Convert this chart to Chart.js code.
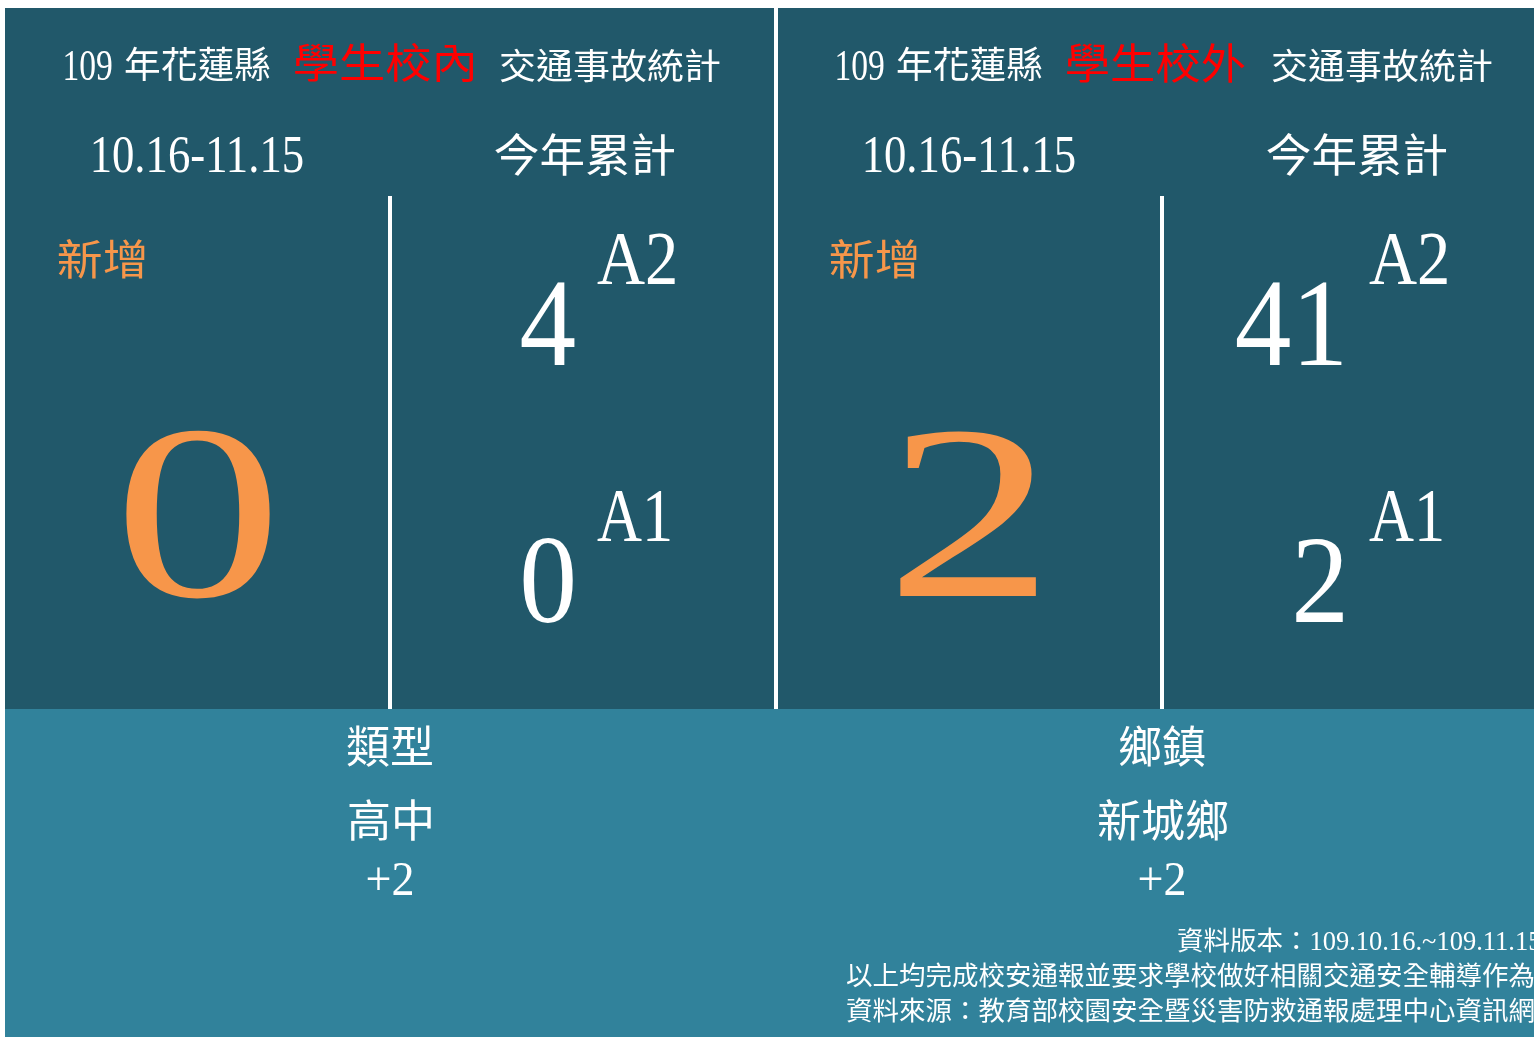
<!DOCTYPE html>
<html>
<head>
<meta charset="utf-8">
<script src="https://cdn.jsdelivr.net/npm/chart.js@4.4.1/dist/chart.umd.min.js"></script>
<style>
  html, body { margin: 0; padding: 0; background: #ffffff; overflow: hidden; width: 1534px; height: 1037px; }
  #wrap { position: absolute; left: 4px; top: 0px; width: 1544px; height: 1037px; }
  canvas { display: block; }
</style>
</head>
<body>
<div id="wrap"><canvas id="c" width="1544" height="1037"></canvas></div>
<script>
// ---- data ----
const panels = ['學生校內', '學生校外'];
const yearLabel = '109';
const countyLabel = '年花蓮縣';
const titleSuffix = '交通事故統計';
const periodLabel = '10.16-11.15';
const cumulativeLabel = '今年累計';
const newLabel = '新增';
const newCounts = [0, 2];
const a2Counts = [4, 41];
const a1Counts = [0, 2];
const a2Label = 'A2';
const a1Label = 'A1';
const breakdownHeads = ['類型', '鄉鎮'];
const breakdownNames = ['高中', '新城鄉'];
const breakdownDeltas = ['+2', '+2'];
const footnoteVersion = '資料版本：109.10.16.~109.11.15.';
const footnoteLines = [
  '以上均完成校安通報並要求學校做好相關交通安全輔導作為',
  '資料來源：教育部校園安全暨災害防救通報處理中心資訊網'
];

// ---- style ----
const DARK = '#21586A';
const LIGHT = '#31829B';
const ORANGE = '#F7964A';
const RED = '#FF0000';
const WHITE = '#FFFFFF';
const SERIF = '"Liberation Serif", "Noto Sans CJK TC", serif';
const CJK = '"Noto Sans CJK TC", "Noto Sans CJK SC", sans-serif';

function fitText(ctx, text, family, color, l, t, r, b) {
  ctx.save();
  ctx.font = '40px ' + family;
  ctx.textAlign = 'left';
  ctx.textBaseline = 'alphabetic';
  const m = ctx.measureText(text);
  const w = m.actualBoundingBoxLeft + m.actualBoundingBoxRight;
  const h = m.actualBoundingBoxAscent + m.actualBoundingBoxDescent;
  ctx.translate(l, t);
  ctx.scale((r - l) / w, (b - t) / h);
  ctx.fillStyle = color;
  ctx.fillText(text, m.actualBoundingBoxLeft, m.actualBoundingBoxAscent);
  ctx.restore();
}

function drawNumber(ctx, text, align, x, baseline, capH, sx, color) {
  ctx.save();
  ctx.font = '100px ' + SERIF;
  const asc = ctx.measureText('2').actualBoundingBoxAscent / 100;
  const size = capH / asc;
  ctx.font = size.toFixed(2) + 'px ' + SERIF;
  ctx.textAlign = align;
  ctx.textBaseline = 'alphabetic';
  ctx.fillStyle = color;
  ctx.translate(x, baseline);
  ctx.scale(sx, 1);
  ctx.fillText(text, 0, 0);
  ctx.restore();
}

const infographic = {
  id: 'infographic',
  beforeDraw(chart) {
    const ctx = chart.ctx;
    const area = chart.chartArea;
    const xs = chart.scales.x;
    const left = 1;            // panel left edge (page x = 5)
    const top = 8;
    const split = 709;
    ctx.save();
    ctx.fillStyle = '#ffffff';
    ctx.fillRect(0, 0, chart.width, chart.height);
    ctx.fillStyle = DARK;
    ctx.fillRect(left, top, area.right - left, split - top);
    ctx.fillStyle = LIGHT;
    ctx.fillRect(left, split, area.right - left, area.bottom - split);
    // dividers
    ctx.fillStyle = WHITE;
    const mid = (xs.getPixelForValue(0) + xs.getPixelForValue(1)) / 2;
    ctx.fillRect(mid - 2, top, 4, split - top);
    panels.forEach((p, i) => {
      const cx = xs.getPixelForValue(i);
      ctx.fillRect(cx - 2, 196, 4, split - 196);
    });
    ctx.restore();
  },
  afterDraw(chart) {
    const ctx = chart.ctx;
    const xs = chart.scales.x;
    panels.forEach((p, i) => {
      const cx = xs.getPixelForValue(i);
      // title
      fitText(ctx, yearLabel, SERIF, WHITE, cx - 325, 51, cx - 278, 80);
      fitText(ctx, countyLabel, CJK, WHITE, cx - 265, 46, cx - 120, 82);
      fitText(ctx, p, CJK, RED, cx - 95, 42, cx + 83, 83);
      fitText(ctx, titleSuffix, CJK, WHITE, cx + 110, 48, cx + 330, 82);
      // sub headers
      fitText(ctx, periodLabel, SERIF, WHITE, cx - 297, 138, cx - 87, 172);
      fitText(ctx, cumulativeLabel, CJK, WHITE, cx + 105, 133, cx + 285, 177);
      fitText(ctx, newLabel, CJK, ORANGE, cx - 332, 238, cx - 245, 279);
      // big new count
      drawNumber(ctx, String(newCounts[i]), 'center', cx - 192, 596, 164, 1.36, ORANGE);
      // cumulative
      drawNumber(ctx, String(a2Counts[i]), 'right', cx + 186, 365, 83, 0.9, WHITE);
      fitText(ctx, a2Label, SERIF, WHITE, cx + 207, 235, cx + 285, 284);
      drawNumber(ctx, String(a1Counts[i]), 'right', cx + 187, 622, 83, 0.92, WHITE);
      fitText(ctx, a1Label, SERIF, WHITE, cx + 207, 492, cx + 280, 541);
      // breakdown
      ctx.save();
      ctx.fillStyle = WHITE;
      ctx.textAlign = 'center';
      ctx.textBaseline = 'alphabetic';
      ctx.font = '44px ' + CJK;
      ctx.fillText(breakdownHeads[i], cx, 763);
      ctx.font = '44px ' + CJK;
      ctx.fillText(breakdownNames[i], cx + 1, 837);
      ctx.restore();
      drawNumber(ctx, breakdownDeltas[i], 'center', cx, 895, 32, 0.95, WHITE);
    });
    // footnotes (anchored to right panel)
    const rx = xs.getPixelForValue(1);
    ctx.save();
    ctx.fillStyle = WHITE;
    ctx.textAlign = 'left';
    ctx.textBaseline = 'alphabetic';
    ctx.font = '26.5px ' + SERIF;
    ctx.fillText(footnoteVersion, rx + 15, 950);
    ctx.font = '26.5px ' + CJK;
    footnoteLines.forEach((line, k) => {
      ctx.fillText(line, rx - 316, 985 + k * 35);
    });
    ctx.restore();
  }
};

new Chart(document.getElementById('c'), {
  type: 'bar',
  data: {
    labels: panels,
    datasets: [
      { label: '新增', data: newCounts, backgroundColor: 'rgba(0,0,0,0)' },
      { label: 'A2', data: a2Counts, backgroundColor: 'rgba(0,0,0,0)' },
      { label: 'A1', data: a1Counts, backgroundColor: 'rgba(0,0,0,0)' }
    ]
  },
  options: {
    responsive: false,
    animation: false,
    events: [],
    layout: { padding: 0 },
    plugins: { legend: { display: false }, tooltip: { enabled: false }, title: { display: false } },
    scales: {
      x: { display: false, offset: true },
      y: { display: false, min: 0, max: 50 }
    }
  },
  plugins: [infographic]
});
</script>
</body>
</html>
